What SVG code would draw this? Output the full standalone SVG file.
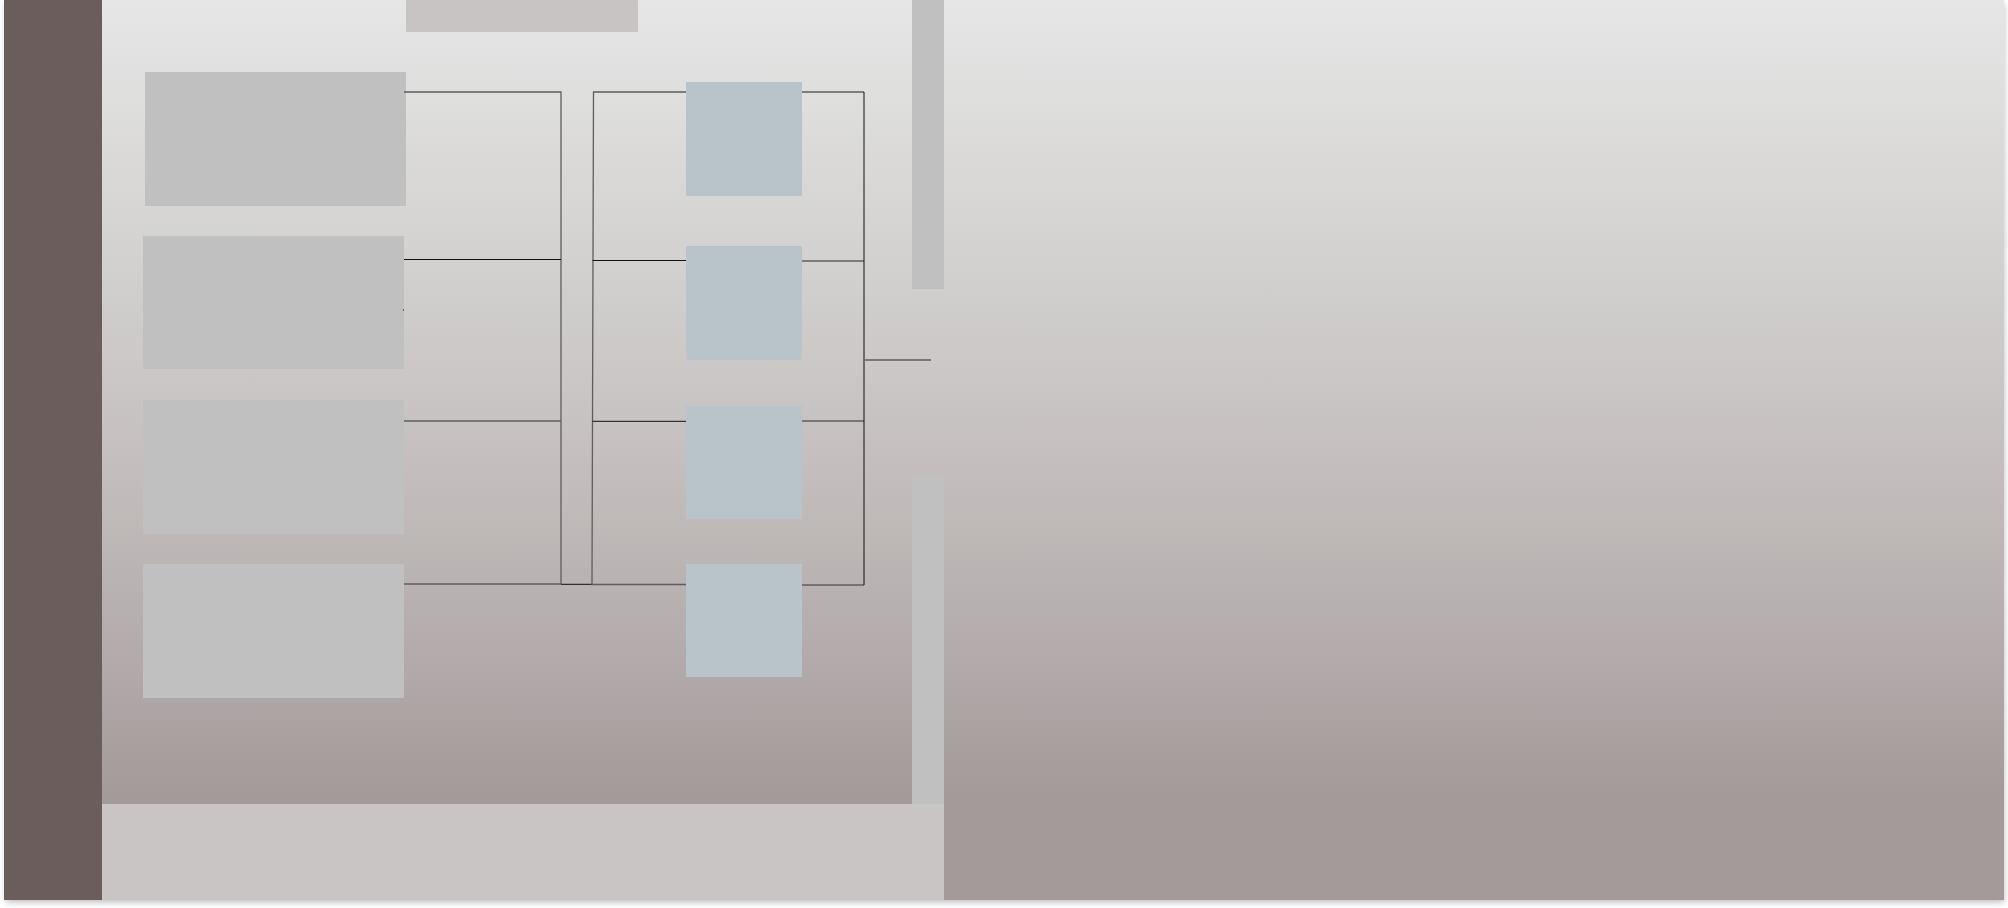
<svg xmlns="http://www.w3.org/2000/svg" width="2008" height="908" viewBox="0 0 2008 908">
<defs>
<linearGradient id="bg" x1="0" y1="0" x2="0" y2="900" gradientUnits="userSpaceOnUse">
<stop offset="0" stop-color="#e6e6e6"/>
<stop offset="0.28" stop-color="#d3d2d0"/>
<stop offset="0.5" stop-color="#c5c0bf"/>
<stop offset="0.75" stop-color="#b1a9a9"/>
<stop offset="0.88" stop-color="#a39a99"/>
<stop offset="1" stop-color="#a39a99"/>
</linearGradient>
<filter id="sh" x="-2%" y="-2%" width="104%" height="106%">
<feGaussianBlur stdDeviation="3"/>
</filter>
<style>
.src{fill:#c0c0c0}
.dst{fill:#b9c4ca}
.bar{fill:#c0c0c0}
.ln{stroke:#5e5e5e;stroke-width:1.3;fill:none}
.lb{stroke:#111;stroke-width:1;fill:none}
</style>
</defs>
<rect width="2008" height="908" fill="#ffffff"/>
<rect x="6" y="4" width="1998" height="898" fill="#b8b8b8" filter="url(#sh)"/>
<g id="panel">
<rect x="4" y="0" width="2000" height="900" fill="url(#bg)"/>
</g>
<g id="sidebar">
<rect x="4" y="0" width="98" height="900" fill="#6b5d5b"/>
</g>
<g id="footer">
<rect x="102" y="804" width="842" height="96" fill="#c8c5c4"/>
</g>
<g id="title">
<rect x="406" y="0" width="232" height="32" fill="#c9c4c4"/>
</g>
<g id="rail-top"><rect class="bar" x="912" y="0" width="32" height="289"/></g>
<g id="rail-bottom"><rect class="bar" x="912" y="475" width="32" height="329" fill="#c1c1c1"/></g>
<g id="src1"><rect class="src" x="145" y="72" width="261" height="134"/></g>
<g id="src2"><rect class="src" x="143" y="236" width="261" height="133"/></g>
<g id="src3"><rect class="src" x="143" y="400" width="261" height="134" fill="#bfbfbf"/></g>
<g id="src4"><rect class="src" x="143" y="564" width="261" height="134" fill="#bfbfbf"/></g>
<g id="dst1"><rect class="dst" x="686" y="82" width="116" height="114"/></g>
<g id="dst2"><rect class="dst" x="686" y="246" width="116" height="114"/></g>
<g id="dst3"><rect class="dst" x="686" y="406" width="116" height="113" fill="#b8c1c8"/></g>
<g id="dst4"><rect class="dst" x="686" y="564" width="116" height="113"/></g>
<g id="connectors">
<path class="ln" d="M404 92H561V584"/>
<path class="lb" d="M404 259.5H561"/>
<path class="ln" d="M404 421H561"/>
<path class="ln" d="M404 584H561"/>
<path class="lb" d="M403 310H404"/>
<path class="lb" d="M561 584.3H592"/>
<path class="ln" d="M686 92H593.5L592 584.5H686"/>
<path class="lb" d="M592.5 260.5H686"/>
<path class="lb" d="M592.5 421.3H686"/>
<path class="ln" d="M802 92H864"/>
<path class="ln" d="M802 261H864"/>
<path class="ln" d="M802 421H864"/>
<path class="ln" d="M802 585H864"/>
<path class="lb" d="M864 92V585"/>
<path class="ln" d="M864 360H931"/>
</g>
</svg>
